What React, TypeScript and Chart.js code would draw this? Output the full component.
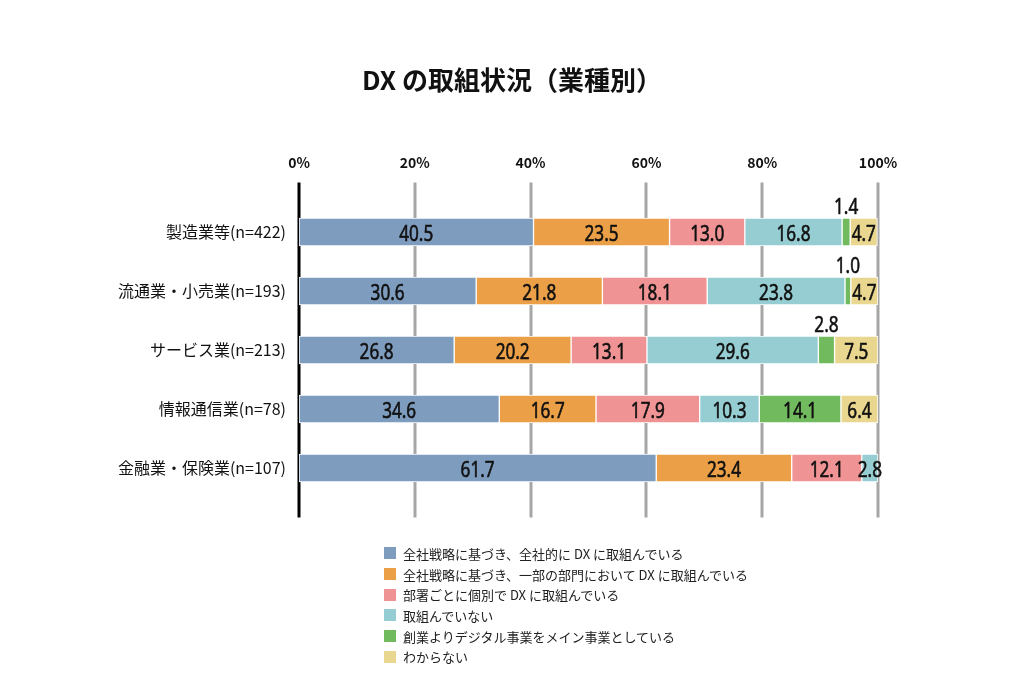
import React, { useEffect, useRef } from "react";
import { Chart, registerables } from "chart.js";

Chart.register(...registerables);

const TITLE = "DX の取組状況（業種別）";

const categories = [
  "製造業等(n=422)",
  "流通業・小売業(n=193)",
  "サービス業(n=213)",
  "情報通信業(n=78)",
  "金融業・保険業(n=107)",
];

const seriesNames = [
  "全社戦略に基づき、全社的に DX に取組んでいる",
  "全社戦略に基づき、一部の部門において DX に取組んでいる",
  "部署ごとに個別で DX に取組んでいる",
  "取組んでいない",
  "創業よりデジタル事業をメイン事業としている",
  "わからない",
];

const companyWide = [40.5, 30.6, 26.8, 34.6, 61.7];
const partDept = [23.5, 21.8, 20.2, 16.7, 23.4];
const perDept = [13.0, 18.1, 13.1, 17.9, 12.1];
const notDoing = [16.8, 23.8, 29.6, 10.3, 2.8];
const digitalNative = [1.4, 1.0, 2.8, 14.1, 0];
const unknown = [4.7, 4.7, 7.5, 6.4, 0];

const seriesValues = [companyWide, partDept, perDept, notDoing, digitalNative, unknown];

const seriesColors = ["#7e9cbe", "#eba048", "#f09394", "#96cdd2", "#72ba5e", "#e9d68f"];

const xTickValues = [0, 20, 40, 60, 80, 100];

const FONT = "'Noto Sans CJK JP', 'Noto Sans', sans-serif";

const titlePlugin = {
  id: "centeredTitle",
  afterDraw(chart: any) {
    const { ctx } = chart;
    ctx.save();
    ctx.fillStyle = "#111111";
    ctx.font = `bold 26px ${FONT}`;
    ctx.textAlign = "center";
    ctx.textBaseline = "middle";
    ctx.fillText(TITLE, chart.width / 2, 80);
    ctx.restore();
  },
};

const gridPlugin = {
  id: "extendedGrid",
  beforeDatasetsDraw(chart: any) {
    const { ctx, chartArea, scales } = chart;
    const x = scales.x;
    const top = chartArea.top - 20;
    const bottom = chartArea.bottom + 20;
    ctx.save();
    ctx.lineWidth = 3;
    ctx.strokeStyle = "#a6a6a6";
    xTickValues.slice(1).forEach((v) => {
      const px = Math.round(x.getPixelForValue(v));
      ctx.beginPath();
      ctx.moveTo(px, top);
      ctx.lineTo(px, bottom);
      ctx.stroke();
    });
    ctx.strokeStyle = "#000000";
    const p0 = Math.round(x.getPixelForValue(0));
    ctx.beginPath();
    ctx.moveTo(p0, top);
    ctx.lineTo(p0, bottom);
    ctx.stroke();
    ctx.restore();
  },
};

const labelPlugin = {
  id: "barLabels",
  afterDatasetsDraw(chart: any) {
    const { ctx } = chart;
    ctx.save();
    ctx.fillStyle = "#111111";
    ctx.strokeStyle = "#111111";
    ctx.lineWidth = 0.6;
    ctx.font = `400 22px 'Noto Sans', ${FONT}`;
    ctx.textAlign = "center";
    ctx.textBaseline = "alphabetic";
    chart.data.datasets.forEach((ds: any, i: number) => {
      const meta = chart.getDatasetMeta(i);
      meta.data.forEach((bar: any, j: number) => {
        const v = ds.data[j];
        if (!v) return;
        const { x, y, base, height } = bar.getProps(["x", "y", "base", "height"], true);
        const cx = (x + base) / 2;
        const text = v.toFixed(1);
        let ty;
        if (i === 4 && v < 5) {
          ty = y - height / 2 - 4.5;
        } else {
          ty = y + 8.5;
        }
        ctx.save();
        ctx.translate(cx, ty);
        ctx.scale(0.78, 1);
        ctx.fillText(text, 0, 0);
        ctx.strokeText(text, 0, 0);
        ctx.restore();
      });
    });
    ctx.restore();
  },
};

export default function App() {
  const canvasRef = useRef<HTMLCanvasElement | null>(null);

  useEffect(() => {
    const canvas = canvasRef.current;
    if (!canvas) return;
    const chart = new Chart(canvas, {
      type: "bar",
      data: {
        labels: categories,
        datasets: seriesValues.map((vals, i) => ({
          label: seriesNames[i],
          data: vals,
          backgroundColor: seriesColors[i],
          borderColor: "#ffffff",
          borderWidth: 1,
          borderSkipped: false,
          barThickness: 28,
        })),
      },
      options: {
        indexAxis: "y",
        responsive: false,
        animation: false,
        layout: { padding: { left: 0, right: 146, top: 114.5, bottom: 186.5 } },
        plugins: {
          legend: { display: false },
          tooltip: { enabled: false },
          title: { display: false },
        },
        scales: {
          x: {
            type: "linear",
            position: "top",
            min: 0,
            max: 100,
            stacked: true,
            grid: { display: false, drawTicks: false },
            border: { display: false },
            ticks: {
              stepSize: 20,
              color: "#111111",
              font: { family: FONT, size: 14, weight: "bold" },
              padding: 31,
              callback: (v: any) => `${v}%`,
            },
            afterFit: (s: any) => {
              s.height = 88;
            },
          },
          y: {
            type: "category",
            stacked: true,
            grid: { display: false, drawTicks: false },
            border: { display: false },
            ticks: {
              color: "#111111",
              font: { family: FONT, size: 16 },
              padding: 13,
            },
            afterFit: (s: any) => {
              s.width = 299;
            },
          },
        },
      },
      plugins: [gridPlugin, labelPlugin, titlePlugin],
    });
    return () => chart.destroy();
  }, []);

  return (
    <div
      style={{
        position: "fixed",
        left: 0,
        top: 0,
        width: 1024,
        height: 684,
        background: "#ffffff",
      }}
    >
      <canvas ref={canvasRef} width={1024} height={684} style={{ display: "block" }} />
      <div
        style={{
          position: "absolute",
          left: 384,
          top: 543,
          fontFamily: FONT,
          fontSize: 13,
          color: "#222222",
        }}
      >
        {seriesNames.map((name, i) => (
          <div
            key={name}
            style={{ display: "flex", alignItems: "center", height: 20.7, whiteSpace: "nowrap" }}
          >
            <span
              style={{
                display: "inline-block",
                width: 12,
                height: 12,
                background: seriesColors[i],
                marginRight: 7,
              }}
            />
            <span>{name}</span>
          </div>
        ))}
      </div>
    </div>
  );
}
